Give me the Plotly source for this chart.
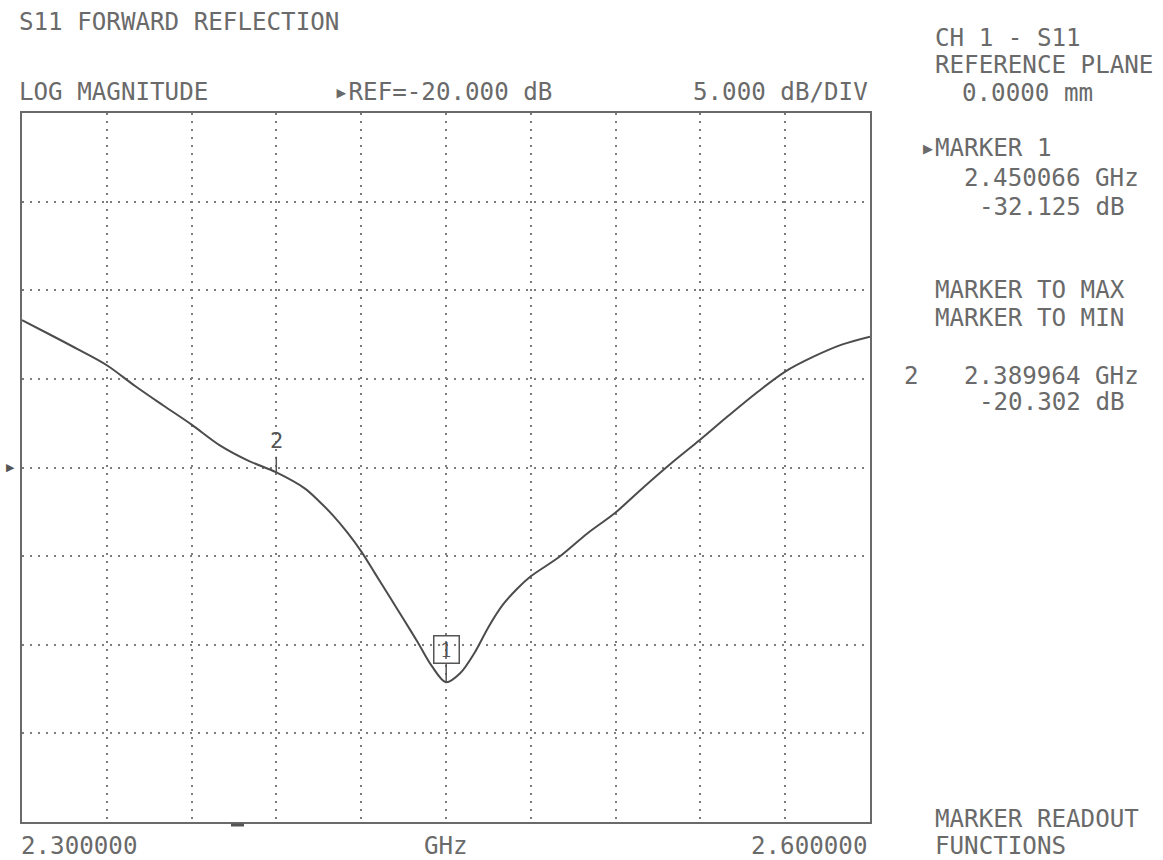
import plotly.graph_objects as go

# ---------------- data ----------------
FREQ_GHZ = [2.300, 2.310, 2.320, 2.330, 2.340, 2.350, 2.360, 2.370, 2.380, 2.390,
            2.400, 2.405, 2.410, 2.415, 2.420, 2.425, 2.430, 2.435, 2.440, 2.445,
            2.450, 2.455, 2.460, 2.465, 2.470, 2.475, 2.480, 2.490, 2.500, 2.510,
            2.520, 2.530, 2.540, 2.550, 2.560, 2.570, 2.580, 2.590, 2.600]
S11_DB = [-11.69, -12.51, -13.35, -14.23, -15.40, -16.50, -17.58, -18.75, -19.61, -20.28,
          -21.18, -21.89, -22.70, -23.65, -24.73, -26.00, -27.28, -28.56, -29.86, -31.21,
          -32.12, -31.61, -30.48, -29.01, -27.77, -26.87, -26.14, -25.05, -23.72, -22.54,
          -21.10, -19.72, -18.42, -17.07, -15.77, -14.59, -13.75, -13.07, -12.62]

MARKER1_F, MARKER1_DB = 2.450066, -32.125
MARKER2_F, MARKER2_DB = 2.389964, -20.302

REF_DB = -20.0
DB_PER_DIV = 5.0
F_START, F_STOP = 2.300, 2.600
N_XDIV = 10
N_YDIV = 8

TITLE = "S11 FORWARD REFLECTION"
FORMAT_LABEL = "LOG MAGNITUDE"
REF_LABEL = "\u25b8REF=-20.000 dB"
SCALE_LABEL = "5.000 dB/DIV"
START_LABEL = "2.300000"
STOP_LABEL = "2.600000"
UNIT_LABEL = "GHz"

PANEL_LINES = ["CH 1 - S11", "REFERENCE PLANE", "0.0000 mm",
               "MARKER 1", "2.450066 GHz", "-32.125 dB",
               "MARKER TO MAX", "MARKER TO MIN",
               "2", "2.389964 GHz", "-20.302 dB",
               "MARKER READOUT", "FUNCTIONS"]

# ---------------- layout geometry (pixels) ----------------
W, H = 1163, 860
PL, PR, PT, PB = 22, 870, 113, 822   # plot area edges in pixels

def px(x):
    return (x - PL) / (PR - PL)

def py(y):
    return (PB - y) / (PB - PT)

FONT = "DejaVu Sans Mono"
FS = 24.2
TXT = "#6a6a6a"
LINE = "#4c4c4c"
GRID = "#7c7c7c"

fig = go.Figure()
fig.add_trace(go.Scatter(
    x=FREQ_GHZ, y=S11_DB, mode="lines",
    line=dict(color=LINE, width=2, shape="spline", smoothing=0.9),
    hoverinfo="skip", showlegend=False))

annotations = []

def txt(s, x, y, anchor="left", size=FS, color=TXT, font=FONT):
    annotations.append(dict(
        text=s, xref="paper", yref="paper", x=px(x), y=py(y),
        xanchor=anchor, yanchor="middle", showarrow=False,
        font=dict(family=font, size=size, color=color), borderpad=0))

# header texts
txt(TITLE, 18, 22)
txt(FORMAT_LABEL, 18, 92)
txt(REF_LABEL, 333, 92)
txt(SCALE_LABEL, 869, 92, anchor="right")

# right-side panel
panel_pos = [(934, 38), (934, 65), (961, 93),
             (934, 148), (963, 178), (978, 207),
             (934, 290), (934, 318),
             (903, 376), (963, 376), (978, 402),
             (934, 819), (934, 846)]
for s, (x, y) in zip(PANEL_LINES, panel_pos):
    txt(s, x, y)
# active-marker pointer
txt("\u25b6", 934, 148, anchor="right", size=13, font="DejaVu Sans")

# bottom axis labels
txt(START_LABEL, 20, 846)
txt(UNIT_LABEL, 446, 846, anchor="center")
txt(STOP_LABEL, 869, 846, anchor="right")

# reference level pointer on the left edge
annotations.append(dict(
    text="\u25b6", xref="paper", yref="y", x=px(17), y=REF_DB,
    xanchor="right", yanchor="middle", showarrow=False,
    font=dict(family="DejaVu Sans", size=11, color="#555555")))

# marker 1 (boxed label)
annotations.append(dict(
    x=MARKER1_F, y=MARKER1_DB, xref="x", yref="y",
    text="1", showarrow=True, arrowhead=0, arrowwidth=1.5, arrowcolor="#555555",
    ax=0, ay=-33, standoff=0, width=22, height=24,
    bordercolor="#555555", borderwidth=1.5, borderpad=1,
    font=dict(family="DejaVu Serif", size=21, color="#555555"),
    bgcolor="rgba(255,255,255,0)"))

# marker 2 (plain label with tick)
annotations.append(dict(
    x=MARKER2_F, y=MARKER2_DB, xref="x", yref="y",
    text="2", showarrow=True, arrowhead=0, arrowwidth=1.5, arrowcolor="#555555",
    ax=0, ay=-32, standoff=0, borderpad=3,
    font=dict(family=FONT, size=22, color="#555555")))

axis_common = dict(showticklabels=False, ticks="", showgrid=True, gridcolor=GRID,
                   griddash="2px,6px", gridwidth=1.6, zeroline=False,
                   showline=True, mirror=True, linecolor="#6a6a6a", linewidth=2,
                   fixedrange=True)

fig.update_layout(
    width=W, height=H,
    margin=dict(l=PL, r=W - PR, t=PT, b=H - PB, pad=0),
    paper_bgcolor="white", plot_bgcolor="white",
    xaxis=dict(range=[F_START, F_STOP], tick0=F_START,
               dtick=(F_STOP - F_START) / N_XDIV, **axis_common),
    yaxis=dict(range=[REF_DB - DB_PER_DIV * N_YDIV / 2, REF_DB + DB_PER_DIV * N_YDIV / 2],
               tick0=REF_DB, dtick=DB_PER_DIV, **axis_common),
    annotations=annotations,
    shapes=[dict(type="line", xref="paper", yref="paper",
                 x0=px(231), x1=px(244), y0=py(825), y1=py(825),
                 line=dict(color="#555555", width=3))],
    showlegend=False,
)

fig.write_html("out.html", config={"displayModeBar": False},
               post_script="document.body.style.margin='0px';"
                           "document.body.style.overflow='hidden';")
